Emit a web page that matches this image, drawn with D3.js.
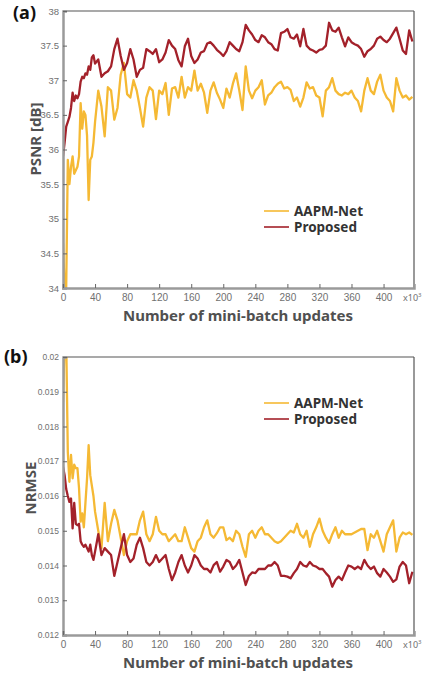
<!DOCTYPE html>
<html>
<head>
<meta charset="utf-8">
<script src="https://cdn.jsdelivr.net/npm/d3@7"></script>
<style>
  body { margin: 0; background: #fff; }
  svg { display: block; font-family: "Noto Sans", "Open Sans", sans-serif; }
</style>
</head>
<body>
<svg id="chart" width="423" height="675"></svg>
<script>
// x positions in thousands of updates (step 2 until 40k, then step 4)
var updates = d3.range(0, 40, 2).concat(d3.range(40, 437, 4));

var psnrAapm = [34.65, 34.0, 34.0, 35.85, 35.5, 35.75, 35.9, 35.65, 35.7, 35.75, 35.9, 36.67, 36.3, 36.55, 36.5, 36.2, 35.27, 35.85, 35.9, 36.1, 36.4,
  36.85, 36.62, 36.19, 36.9, 36.85, 36.43, 36.6, 37.08, 37.25, 36.8,
  36.75, 37.0, 36.85, 36.6, 36.33, 36.75, 36.9, 36.85, 36.44, 36.85,
  36.8, 36.96, 36.5, 36.88, 36.9, 36.75, 37.05, 36.75, 36.9, 36.85,
  37.14, 36.85, 36.95, 36.82, 36.53, 36.85, 36.97, 36.82, 36.72, 36.6,
  36.88, 36.75, 36.95, 37.1, 36.85, 36.57, 37.2, 36.85, 36.74, 36.85,
  36.9, 37.0, 36.65, 36.78, 36.82, 36.9, 36.95, 36.98, 36.88, 36.9,
  36.86, 36.7, 36.75, 36.62, 36.75, 36.97, 36.88, 36.9, 36.78, 36.75,
  36.48, 36.85, 36.9, 37.03, 36.85, 36.8, 36.78, 36.82, 36.8, 36.85,
  36.75, 36.7, 36.55, 36.85, 37.03, 36.85, 36.8, 36.98, 37.08, 36.85,
  36.75, 36.7, 36.55, 37.03, 36.85, 36.75, 36.78, 36.72, 36.76];

var psnrProposed = [35.9, 36.1, 36.33, 36.4, 36.47, 36.6, 36.82, 36.7, 36.78, 36.74, 36.8, 36.98, 37.05, 37.03, 37.1, 37.08, 37.2, 37.15, 37.33, 37.36, 37.24,
  37.3, 37.05, 37.1, 37.13, 37.2, 37.45, 37.6, 37.35, 37.15, 37.25,
  37.45, 37.3, 37.05, 37.15, 37.18, 37.45, 37.42, 37.38, 37.45, 37.26,
  37.3, 37.4, 37.58, 37.5, 37.45, 37.29, 37.2, 37.49, 37.6, 37.35,
  37.25, 37.3, 37.4, 37.42, 37.53, 37.55, 37.5, 37.44, 37.4, 37.35,
  37.42, 37.55, 37.5, 37.45, 37.42, 37.55, 37.8, 37.72, 37.66, 37.58,
  37.55, 37.65, 37.62, 37.55, 37.52, 37.45, 37.43, 37.68, 37.7, 37.74,
  37.62, 37.6, 37.66, 37.49, 37.74, 37.5, 37.45, 37.43, 37.4, 37.44,
  37.45, 37.5, 37.83, 37.72, 37.7, 37.76, 37.62, 37.49, 37.62, 37.55,
  37.52, 37.5, 37.45, 37.34, 37.42, 37.45, 37.5, 37.6, 37.63, 37.58,
  37.55, 37.6, 37.68, 37.76, 37.6, 37.43, 37.38, 37.72, 37.56];

var nrmseAapm = [0.0187, 0.0205, 0.0205, 0.01727, 0.01641, 0.01718, 0.01651, 0.0169, 0.0168, 0.0168, 0.01623, 0.01526, 0.0155, 0.0151, 0.0158, 0.0165, 0.01746, 0.0166, 0.0163, 0.016, 0.01555,
  0.015, 0.0145, 0.0158, 0.0147, 0.0152, 0.0156, 0.0153, 0.0148, 0.0143, 0.0147,
  0.0149, 0.0149, 0.0149, 0.0153, 0.01555, 0.0149, 0.0147, 0.0149, 0.0154, 0.015,
  0.0149, 0.0149, 0.0147, 0.0148, 0.0149, 0.0147, 0.0147, 0.0151, 0.0148, 0.0145,
  0.0144, 0.0147, 0.0148, 0.0151, 0.0153, 0.0149, 0.0148, 0.01493, 0.0151, 0.0151,
  0.01473, 0.0148, 0.0147, 0.015, 0.0149, 0.01454, 0.01425, 0.0149, 0.015, 0.0148,
  0.015, 0.0151, 0.0149, 0.0149, 0.0148, 0.0147, 0.01465, 0.0147, 0.0148, 0.0149,
  0.015, 0.01495, 0.0152, 0.0149, 0.0148, 0.015, 0.01454, 0.0149, 0.0151, 0.01535,
  0.015, 0.0148, 0.01465, 0.0149, 0.0151, 0.0148, 0.015, 0.0149, 0.0149, 0.0149,
  0.01495, 0.015, 0.01505, 0.01505, 0.01444, 0.0149, 0.0148, 0.015, 0.0147, 0.0144,
  0.0149, 0.0151, 0.0153, 0.0144, 0.0148, 0.01495, 0.0149, 0.01495, 0.01488];

var nrmseProposed = [0.01684, 0.0166, 0.0162, 0.016, 0.01583, 0.01593, 0.01507, 0.0158, 0.0152, 0.01516, 0.0152, 0.0147, 0.0146, 0.01454, 0.0146, 0.0145, 0.0144, 0.0146, 0.0143, 0.01416, 0.0144,
  0.0149, 0.0143, 0.0145, 0.0144, 0.0143, 0.0137, 0.0141, 0.0145, 0.0149, 0.0143,
  0.0141, 0.0142, 0.0146, 0.0148, 0.0145, 0.0141, 0.014, 0.0141, 0.0143, 0.0141,
  0.0142, 0.0143, 0.0139, 0.01358, 0.0138, 0.0141, 0.0143, 0.014, 0.0138, 0.014,
  0.0143, 0.0142, 0.014, 0.0139, 0.0139, 0.0138, 0.01401, 0.0141, 0.01382, 0.01397,
  0.01416, 0.0141, 0.0139, 0.014, 0.01416, 0.0138, 0.01344, 0.0137, 0.0138, 0.01378,
  0.0139, 0.0139, 0.0139, 0.014, 0.014, 0.0141, 0.014, 0.0137, 0.0137, 0.01368,
  0.01363, 0.01378, 0.0139, 0.0141, 0.014, 0.01397, 0.0141, 0.014, 0.01397, 0.0139,
  0.0139, 0.01378, 0.01368, 0.01339, 0.01358, 0.01368, 0.01358, 0.0138, 0.014, 0.01397,
  0.0139, 0.01397, 0.0139, 0.01416, 0.014, 0.0139, 0.01397, 0.01378, 0.01368, 0.0139,
  0.0138, 0.01368, 0.01353, 0.0136, 0.01397, 0.0141, 0.014, 0.01349, 0.01382];

var xTicks = [0, 40, 80, 120, 160, 200, 240, 280, 320, 360, 400];
var psnrTicks = [34, 34.5, 35, 35.5, 36, 36.5, 37, 37.5, 38];
var nrmseTicks = [0.012, 0.013, 0.014, 0.015, 0.016, 0.017, 0.018, 0.019, 0.02];
var seriesNames = ["AAPM-Net", "Proposed"];

var colorAapm = "#f5b934";
var colorProposed = "#a3212a";

var svg = d3.select("#chart");

var x = d3.scaleLinear().domain([0, 438]).range([63, 414]);

function drawPanel(opts) {
  var y = d3.scaleLinear().domain(opts.domain).range([opts.bottom, opts.top]);
  var g = svg.append("g");

  // clip so the first spike is cut at the top like in the original
  g.append("clipPath").attr("id", opts.id + "-clip")
    .append("rect")
    .attr("x", x.range()[0]).attr("y", opts.top)
    .attr("width", x.range()[1] - x.range()[0])
    .attr("height", opts.bottom - opts.top);

  var line = d3.line()
    .x(function(d, i) { return x(updates[i]); })
    .y(function(d) { return y(d); });

  g.append("path").datum(opts.aapm)
    .attr("clip-path", "url(#" + opts.id + "-clip)")
    .attr("d", line).attr("fill", "none")
    .attr("stroke", colorAapm).attr("stroke-width", 2.3)
    .attr("stroke-linejoin", "round");

  g.append("path").datum(opts.proposed)
    .attr("clip-path", "url(#" + opts.id + "-clip)")
    .attr("d", line).attr("fill", "none")
    .attr("stroke", colorProposed).attr("stroke-width", 2.3)
    .attr("stroke-linejoin", "round");

  // top and right frame
  g.append("line").attr("x1", x.range()[0]).attr("x2", x.range()[1])
    .attr("y1", opts.top).attr("y2", opts.top)
    .attr("stroke", "#555").attr("stroke-width", 1.2);
  g.append("line").attr("x1", x.range()[1]).attr("x2", x.range()[1])
    .attr("y1", opts.top).attr("y2", opts.bottom)
    .attr("stroke", "#555").attr("stroke-width", 1.2);

  // left axis
  var yAxis = g.append("g")
    .attr("transform", "translate(" + x.range()[0] + ",0)")
    .call(d3.axisRight(y).tickValues(opts.ticks).tickFormat(d3.format("~g")).tickSize(4));
  yAxis.select(".domain").attr("stroke", "#9a9a9a").attr("stroke-width", 2.5);
  yAxis.selectAll(".tick line").attr("stroke", "#666").attr("stroke-width", 1);
  yAxis.selectAll(".tick text")
    .attr("x", -4).attr("text-anchor", "end")
    .attr("fill", "#707070")
    .style("font-size", opts.yFont + "px");

  // bottom axis
  var xAxis = g.append("g")
    .attr("transform", "translate(0," + opts.bottom + ")")
    .call(d3.axisTop(x).tickValues(xTicks).tickSize(4));
  xAxis.select(".domain").attr("stroke", "#9a9a9a").attr("stroke-width", 2.5);
  xAxis.selectAll(".tick line").attr("stroke", "#666").attr("stroke-width", 1);
  xAxis.selectAll(".tick text")
    .attr("y", 13).attr("dy", "0em")
    .attr("fill", "#707070")
    .style("font-size", "10px");

  g.append("text")
    .attr("x", 403).attr("y", opts.bottom + 13)
    .attr("fill", "#707070").style("font-size", "9px")
    .text("x10")
    .append("tspan").attr("dy", -4).style("font-size", "6px").text("3");

  // axis titles
  g.append("text")
    .attr("x", 238).attr("y", opts.bottom + 33)
    .attr("text-anchor", "middle")
    .attr("fill", "#505050")
    .style("font-size", "15px").style("font-weight", "bold")
    .text("Number of mini-batch updates");

  g.append("text")
    .attr("transform", "translate(" + opts.yTitleX + "," + opts.yTitleY + ") rotate(-90)")
    .attr("text-anchor", "middle")
    .attr("fill", "#505050")
    .style("font-size", "15px").style("font-weight", "bold")
    .text(opts.yTitle);

  g.append("text")
    .attr("x", opts.labelX).attr("y", opts.labelY)
    .attr("fill", "#111")
    .style("font-size", "18px").style("font-weight", "bold")
    .text(opts.label);

  // legend
  var legend = g.append("g");
  seriesNames.forEach(function(name, i) {
    var ly = opts.legendY + i * 16;
    legend.append("line")
      .attr("x1", 264).attr("x2", 289).attr("y1", ly).attr("y2", ly)
      .attr("stroke", i === 0 ? colorAapm : colorProposed)
      .attr("stroke-width", 1.6);
    legend.append("text")
      .attr("x", 294).attr("y", ly + 5)
      .attr("fill", "#333")
      .style("font-size", "13.5px").style("font-weight", "bold")
      .text(name);
  });
}

drawPanel({
  id: "psnr", domain: [34, 38], top: 11, bottom: 288,
  ticks: psnrTicks, yFont: 9.5,
  aapm: psnrAapm, proposed: psnrProposed,
  yTitle: "PSNR [dB]", yTitleX: 41, yTitleY: 139,
  label: "(a)", labelX: 13, labelY: 19,
  legendY: 211
});

drawPanel({
  id: "nrmse", domain: [0.012, 0.02], top: 357, bottom: 635,
  ticks: nrmseTicks, yFont: 8.5,
  aapm: nrmseAapm, proposed: nrmseProposed,
  yTitle: "NRMSE", yTitleX: 36, yTitleY: 488,
  label: "(b)", labelX: 4, labelY: 363,
  legendY: 403
});
</script>
</body>
</html>
